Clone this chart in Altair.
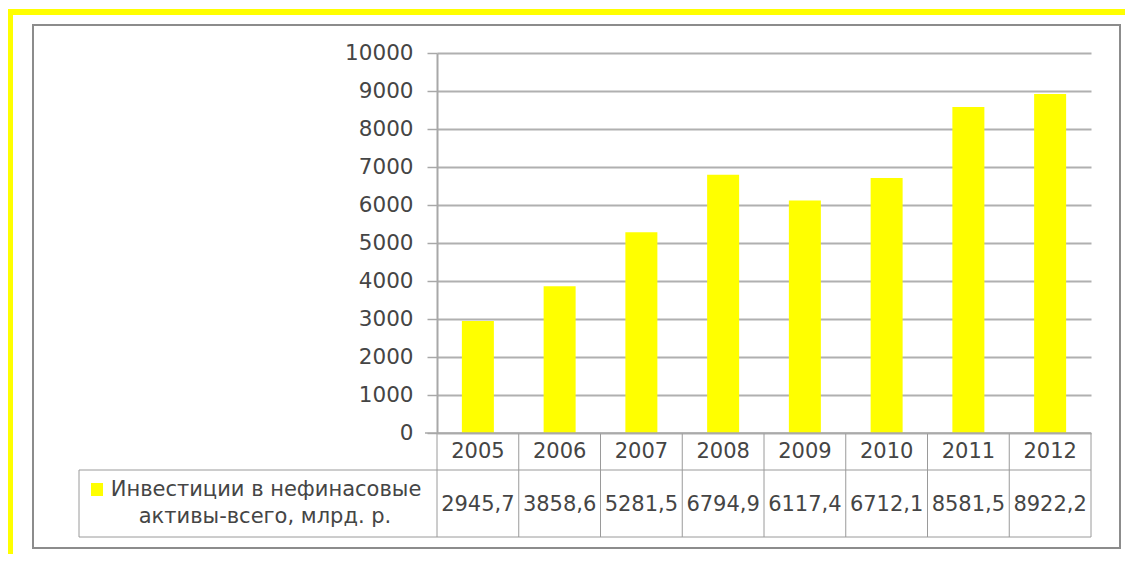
import altair as alt
import pandas as pd

years = ["2005", "2006", "2007", "2008", "2009", "2010", "2011", "2012"]
values = [2945.7, 3858.6, 5281.5, 6794.9, 6117.4, 6712.1, 8581.5, 8922.2]
value_labels = ["2945,7", "3858,6", "5281,5", "6794,9", "6117,4", "6712,1", "8581,5", "8922,2"]
y_ticks = [0, 1000, 2000, 3000, 4000, 5000, 6000, 7000, 8000, 9000, 10000]
legend_lines = ["Инвестиции в нефинасовые", "активы-всего, млрд. р."]

FONT = "DejaVu Sans"
TXT = "#454545"
YEL = "#FFFF00"
LINE = "#9a9a9a"

df = pd.DataFrame({"year": years, "value": values, "label": value_labels})
one = pd.DataFrame({"k": [0]})

xs = alt.Scale(paddingInner=0, paddingOuter=0)

bars = alt.Chart(df).mark_bar(width=32, color=YEL).encode(
    x=alt.X("year:N", scale=xs, axis=None),
    y=alt.Y("value:Q", scale=alt.Scale(domain=[0, 10000], nice=False),
            axis=alt.Axis(values=y_ticks, grid=True, title="", format="d",
                          gridColor="#b0b0b0", gridWidth=2,
                          domainColor="#a8a8a8", domainWidth=2,
                          tickColor="#a8a8a8", tickWidth=1.5, tickSize=10,
                          labelPadding=14, labelFont=FONT, labelFontSize=21.5,
                          labelColor=TXT)),
)

year_text = alt.Chart(df).mark_text(font=FONT, fontSize=21, color=TXT, baseline="middle").encode(
    x=alt.X("year:N"), y=alt.value(399), text="year:N")
val_text = alt.Chart(df).mark_text(font=FONT, fontSize=21, color=TXT, baseline="middle").encode(
    x=alt.X("year:N"), y=alt.value(452), text="label:N")

vlines = alt.Chart(df).mark_rule(color=LINE, strokeWidth=1).encode(
    x=alt.X("year:N", bandPosition=0), y=alt.value(380), y2=alt.value(484))

def rule(x, x2, y, y2, color=LINE, w=1):
    return alt.Chart(one).mark_rule(color=color, strokeWidth=w).encode(
        x=alt.value(x), x2=alt.value(x2), y=alt.value(y), y2=alt.value(y2))

deco = [
    rule(654, 654, 380, 484),
    rule(-358, -358, 417, 484),
    rule(-358, 654, 417, 417),
    rule(-358, 654, 484, 484),
    rule(-12, 654, 380, 380, color="#a8a8a8", w=1.5),
    rule(-430, 700, -41, -41, color=YEL, w=6),
    rule(-427, -427, -44, 520, color=YEL, w=6),
]

box = alt.Chart(one).mark_rect(fillOpacity=0, stroke="#8c8c8c", strokeWidth=2).encode(
    x=alt.value(-404), x2=alt.value(683), y=alt.value(-28), y2=alt.value(495))

square = alt.Chart(one).mark_rect(color=YEL).encode(
    x=alt.value(-346), x2=alt.value(-334), y=alt.value(430), y2=alt.value(443))

leg1 = alt.Chart(pd.DataFrame({"t": [legend_lines[0]]})).mark_text(
    font=FONT, fontSize=21, color=TXT, align="center", baseline="middle").encode(
    x=alt.value(-171), y=alt.value(437), text="t:N")
leg2 = alt.Chart(pd.DataFrame({"t": [legend_lines[1]]})).mark_text(
    font=FONT, fontSize=21, color=TXT, align="center", baseline="middle").encode(
    x=alt.value(-172), y=alt.value(464), text="t:N")

chart = alt.layer(box, bars, vlines, year_text, val_text, square, leg1, leg2, *deco).properties(
    width=654, height=380,
    padding={"left": 429, "top": 45, "right": 34, "bottom": 121},
    autosize=alt.AutoSizeParams(type="none"),
    background="white",
).configure_view(strokeWidth=0)

chart.save("out.html", embed_options={"renderer": "svg", "actions": False})
